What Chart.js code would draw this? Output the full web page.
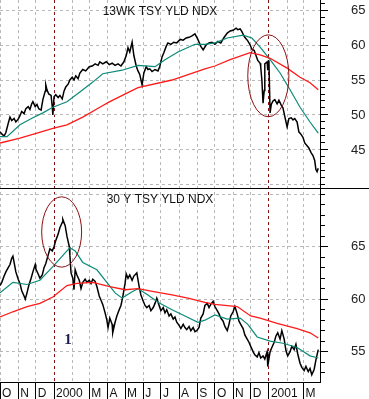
<!DOCTYPE html>
<html>
<head>
<meta charset="utf-8">
<script src="https://cdn.jsdelivr.net/npm/chart.js@4.4.1/dist/chart.umd.min.js"></script>
<style>
  html, body { margin: 0; padding: 0; background: #fff; }
  #wrap { width: 369px; height: 399px; }
</style>
</head>
<body>
<div id="wrap"><canvas id="grafico" width="369" height="399"></canvas></div>
<script>
// ===============================
// DATA (x = days since 1 Oct 1999)
// ===============================

const monthDays = [0, 31, 61, 92, 123, 152, 183, 213, 244, 274, 305, 336, 366, 397, 427, 458, 489, 517];
const monthLabels = ["O", "N", "D", "2000", "", "M", "A", "M", "J", "J", "A", "S", "O", "N", "D", "2001", "", "M"];
const yearStarts = [92, 458];
const silentTicks = [123, 489];

const topTitle = "13WK TSY YLD NDX";
const botTitle = "30 Y TSY YLD NDX";
const topLabels = [45, 50, 55, 60, 65];
const botLabels = [55, 60, 65];

// 13 week yield index, daily close
const topDays = [
  0, 3, 7, 10, 14, 17, 20, 24, 27, 31,
  34, 37, 41, 44, 48, 51, 54, 56, 60, 63,
  66, 70, 73, 77, 78, 80, 83, 87, 89, 90,
  92, 95, 99, 102, 106, 109, 112, 116, 119, 123,
  126, 129, 133, 136, 141, 146, 152, 157, 162, 167,
  170, 175, 181, 186, 191, 196, 201, 206, 211, 215,
  218, 221, 225, 228, 232, 235, 238, 242, 245, 249,
  252, 255, 259, 264, 269, 272, 276, 279, 283, 286,
  291, 296, 301, 307, 312, 317, 322, 327, 332, 337,
  342, 346, 351, 356, 361, 366, 371, 376, 381, 387,
  392, 397, 402, 405, 409, 412, 416, 419, 422, 426,
  429, 433, 436, 439, 443, 444, 446, 448, 450, 451,
  455, 456, 458, 460, 462, 465, 468, 472, 475, 479,
  482, 485, 489, 492, 496, 499, 502, 506, 509, 513,
  516, 519, 523, 526, 530, 533, 536, 538, 540, 542
];
const topPrice = [
  47.6, 47.3, 47.0, 47.5, 48.8, 49.7, 49.2, 49.5, 49.0, 49.4,
  49.9, 50.5, 50.2, 50.9, 51.2, 50.8, 51.6, 51.9, 51.2, 51.5,
  50.9, 50.7, 52.2, 53.4, 54.3, 53.6, 53.0, 52.8, 51.2, 50.0,
  52.6, 52.9, 52.5, 52.8, 52.3, 53.4, 54.0, 54.4, 55.0, 55.4,
  55.0, 55.6, 55.2, 56.0, 56.5, 56.3, 56.9, 57.0, 57.3, 57.1,
  57.6, 57.3, 57.6, 57.2, 57.4, 57.1, 57.3, 57.0, 57.6, 58.5,
  59.6, 59.0, 60.4, 58.5, 57.0, 56.3, 55.8, 54.3, 56.0, 56.9,
  56.5, 56.6, 56.2, 56.5, 56.3, 56.9, 58.3, 58.9, 59.8, 60.3,
  60.1, 60.4, 60.3, 60.8, 60.7, 61.0, 61.1, 61.3, 61.6, 60.8,
  59.8, 59.3, 60.0, 60.3, 60.4, 60.1, 60.5, 60.3, 61.0, 61.7,
  62.0, 62.1, 62.4, 62.2, 62.3, 61.9, 61.2, 60.9, 60.6, 60.0,
  59.4, 59.2, 58.5, 57.8, 57.4, 56.9, 55.0, 51.7, 53.5, 57.3,
  57.6, 56.4, 57.8, 50.3, 51.5, 52.0, 52.2, 51.6, 52.1, 51.4,
  51.0, 49.8, 48.3, 49.5, 49.6, 49.3, 49.5, 49.0, 47.6, 47.2,
  46.8, 46.0, 45.6, 45.3, 44.6, 44.2, 43.5, 42.2, 41.9, 42.4
];
const topTealDays = [0, 12, 34, 56, 73, 90, 114, 136, 158, 175, 208, 235, 264, 281, 303, 332, 349, 366, 387, 414, 429, 443, 460, 477, 494, 511, 528, 542];
const topTeal = [46.9, 46.9, 48.6, 49.6, 50.3, 51.1, 51.9, 53.3, 54.7, 55.9, 56.4, 57.1, 56.9, 57.9, 59.0, 60.1, 60.1, 60.3, 61.0, 61.4, 61.0, 59.7, 57.9, 56.0, 53.6, 51.1, 49.0, 47.4];
const topRedDays = [0, 34, 63, 90, 114, 141, 170, 187, 235, 293, 349, 366, 392, 426, 443, 460, 489, 511, 528, 542];
const topRed = [46.0, 46.7, 47.4, 48.1, 48.6, 49.7, 51.1, 51.9, 53.9, 55.0, 56.6, 57.0, 57.9, 58.9, 58.6, 58.1, 56.7, 55.4, 54.6, 53.6];

// 30 year yield index, daily close
const botDays = [
  0, 3, 7, 10, 14, 17, 20, 22, 24, 27,
  31, 34, 37, 41, 43, 46, 49, 53, 56, 60,
  61, 65, 68, 72, 75, 78, 82, 85, 89, 92,
  95, 99, 102, 106, 107, 111, 114, 118, 119, 121,
  124, 126, 128, 131, 135, 138, 141, 145, 148, 152,
  155, 158, 162, 165, 169, 172, 175, 179, 182, 184,
  187, 191, 192, 196, 199, 203, 206, 209, 213, 215,
  218, 221, 225, 228, 233, 237, 240, 244, 247, 250,
  254, 257, 261, 264, 267, 271, 274, 278, 281, 284,
  288, 291, 295, 298, 301, 305, 308, 312, 315, 318,
  322, 325, 329, 332, 335, 339, 342, 346, 349, 353,
  356, 359, 363, 366, 370, 373, 376, 380, 383, 387,
  390, 393, 397, 400, 404, 407, 410, 414, 417, 421,
  424, 427, 431, 434, 438, 441, 444, 448, 451, 455,
  456, 460, 463, 467, 470, 473, 477, 480, 484, 487,
  490, 494, 497, 501, 504, 507, 511, 514, 518, 521,
  525, 528, 531, 535, 538, 542
];
const botPrice = [
  61.3, 61.6, 62.2, 62.6, 63.0, 63.3, 63.9, 64.1, 63.5, 62.6,
  61.9, 61.5, 60.8, 60.3, 60.0, 60.6, 61.3, 62.0, 62.6, 63.3,
  62.9, 62.4, 62.0, 62.3, 63.0, 63.4, 64.2, 64.8, 64.6, 65.0,
  65.6, 66.2, 66.8, 67.3, 67.6, 67.0, 66.0, 65.0, 64.2, 62.5,
  62.0, 60.9, 62.8, 62.3, 61.8, 61.0, 61.6, 61.9, 61.6, 61.8,
  61.5, 61.9, 61.7, 61.2, 60.3, 59.9, 59.5, 58.7, 58.0, 57.3,
  58.2, 57.6, 56.8, 57.8, 58.4, 59.0, 59.4, 60.2, 61.5, 62.4,
  62.0, 62.3, 61.8, 62.2, 62.5, 61.2, 60.4, 59.8, 59.4, 59.2,
  59.4, 58.9, 59.2, 59.6, 60.1, 59.4, 58.9, 59.2, 58.7, 59.0,
  58.4, 58.6, 58.1, 58.3, 57.8, 57.5, 57.2, 57.6, 57.3, 57.1,
  57.4, 57.0, 57.3, 56.9, 57.0, 57.3, 58.2, 58.6, 59.4, 59.6,
  59.2, 59.5, 59.8, 59.3, 58.9, 58.6, 58.2, 57.9, 57.4, 57.0,
  57.6, 58.4, 58.8, 59.3, 58.6, 57.9, 57.6, 57.2, 56.6, 56.2,
  55.9, 55.5, 55.0, 54.7, 54.5, 54.9, 54.4, 54.6, 54.3, 55.0,
  53.6, 55.0, 55.4, 55.9, 56.5, 56.8, 56.2, 57.0, 56.2, 55.1,
  54.6, 55.0, 55.5, 55.2, 55.7, 54.8, 53.9, 53.5, 53.2, 53.6,
  53.1, 53.4, 52.8, 53.3, 54.2, 55.2
];
const botTealDays = [0, 22, 46, 68, 90, 114, 119, 128, 141, 165, 182, 196, 208, 225, 235, 252, 269, 293, 315, 337, 349, 366, 387, 409, 422, 438, 460, 482, 506, 528, 542];
const botTeal = [60.6, 61.6, 61.4, 61.8, 63.1, 64.6, 64.9, 64.6, 63.5, 62.8, 61.6, 60.6, 60.1, 60.7, 61.0, 60.4, 59.7, 59.0, 58.4, 57.8, 58.0, 58.5, 58.1, 58.2, 57.6, 56.4, 56.0, 55.8, 55.4, 54.6, 54.4];
const botRedDays = [0, 22, 46, 68, 90, 114, 131, 158, 187, 213, 235, 264, 293, 320, 349, 366, 404, 427, 443, 472, 506, 528, 542];
const botRed = [58.3, 58.8, 59.3, 59.6, 60.2, 61.3, 61.5, 61.6, 61.2, 60.9, 61.0, 60.7, 60.4, 60.1, 59.7, 59.5, 59.3, 58.4, 58.2, 57.7, 57.2, 56.8, 56.3];

// circled areas and the "1" note, in data units
const circles = [
  { axis: "yTop", day: 457, value: 55.6, halfDays: 35, halfValue: 5.85 },
  { axis: "yBot", day: 105, value: 66.4, halfDays: 34, halfValue: 3.35 }
];
const note = { axis: "yBot", day: 116, value: 55.7, text: "1" };

// ===============================
// HELPERS
// ===============================

function pares(dias, valores) {
  return dias.map(function (d, i) {
    return { x: d, y: valores[i] };
  });
}

function marcas(desde, hasta) {
  const lista = [];
  for (let v = desde; v <= hasta; v++) lista.push({ value: v });
  return lista;
}

const fuente = '"Liberation Sans", Arial, sans-serif';
const gris = "#b8b8b8";
const rojo = "#ff1a1a";
const verde = "#0b8a78";
const granate = "#8b1010";

function ejeY(peso, min, max, desde, hasta, etiquetas) {
  return {
    type: "linear",
    position: "right",
    stack: "panel",
    stackWeight: peso,
    min: min,
    max: max,
    afterBuildTicks: function (s) { s.ticks = marcas(desde, hasta); },
    afterFit: function (s) {
      s.width = 49;
      s.paddingTop = 0;
      s.paddingBottom = 0;
    },
    ticks: {
      autoSkip: false,
      padding: 23,
      color: "#222",
      font: { family: fuente, size: 13 },
      callback: function (v) { return etiquetas.includes(v) ? String(v) : ""; }
    },
    grid: {
      color: function (c) { return c.tick && c.tick.value % 5 === 0 ? gris : "rgba(0,0,0,0)"; },
      lineWidth: 1,
      tickLength: 8,
      tickColor: "#000",
      tickBorderDash: function (c) { return c.tick && etiquetas.includes(c.tick.value) ? [] : [4, 40]; }
    },
    border: { display: true, color: "#000", width: 1, dash: [3, 3] }
  };
}

// ===============================
// ANNOTATIONS PLUGIN
// ===============================

const anotaciones = {
  id: "anotaciones",
  afterDraw: function (chart) {
    const ctx = chart.ctx;
    const area = chart.chartArea;
    const x = chart.scales.x;
    const yT = chart.scales.yTop;
    const yB = chart.scales.yBot;

    ctx.save();

    // line between the two panels
    const sep = Math.round(yT.bottom) + 0.5;
    ctx.strokeStyle = "#000";
    ctx.lineWidth = 1;
    ctx.beginPath();
    ctx.moveTo(0, sep);
    ctx.lineTo(chart.width, sep);
    ctx.stroke();

    // panel titles
    const cx = (area.left + area.right) / 2;
    ctx.fillStyle = "#111";
    ctx.font = "12px " + fuente;
    ctx.textAlign = "center";
    ctx.textBaseline = "alphabetic";
    ctx.fillText(topTitle, cx, yT.top + 15);
    ctx.fillText(botTitle, cx, yB.top + 15);

    // circles
    ctx.strokeStyle = granate;
    ctx.lineWidth = 1;
    circles.forEach(function (c) {
      const ys = chart.scales[c.axis];
      const px = x.getPixelForValue(c.day);
      const py = ys.getPixelForValue(c.value);
      const rx = Math.abs(x.getPixelForValue(c.day + c.halfDays) - px);
      const ry = Math.abs(ys.getPixelForValue(c.value + c.halfValue) - py);
      ctx.beginPath();
      ctx.ellipse(px, py, rx, ry, 0, 0, Math.PI * 2);
      ctx.stroke();
    });

    // note
    const ys = chart.scales[note.axis];
    ctx.fillStyle = "#1c1c4a";
    ctx.font = 'bold 15px "Liberation Serif", "Times New Roman", serif';
    ctx.fillText(note.text, x.getPixelForValue(note.day), ys.getPixelForValue(note.value));

    ctx.restore();
  }
};

// ===============================
// CHART
// ===============================

const ctx = document.getElementById("grafico").getContext("2d");

new Chart(ctx, {
  type: "line",
  data: {
    datasets: [
      { data: pares(topRedDays, topRed), yAxisID: "yTop", borderColor: rojo, borderWidth: 1.3 },
      { data: pares(topTealDays, topTeal), yAxisID: "yTop", borderColor: verde, borderWidth: 1.2 },
      { data: pares(topDays, topPrice), yAxisID: "yTop", borderColor: "#000", borderWidth: 1.5 },
      { data: pares(botRedDays, botRed), yAxisID: "yBot", borderColor: rojo, borderWidth: 1.3 },
      { data: pares(botTealDays, botTeal), yAxisID: "yBot", borderColor: verde, borderWidth: 1.2 },
      { data: pares(botDays, botPrice), yAxisID: "yBot", borderColor: "#000", borderWidth: 1.5 }
    ]
  },
  options: {
    responsive: false,
    animation: false,
    layout: { padding: 0 },
    elements: { point: { radius: 0 }, line: { tension: 0 } },
    plugins: { legend: { display: false }, tooltip: { enabled: false } },
    scales: {
      x: {
        type: "linear",
        position: "bottom",
        min: 0,
        max: 545,
        afterBuildTicks: function (s) {
          s.ticks = monthDays.map(function (d) { return { value: d }; });
        },
        afterFit: function (s) {
          s.height = 17;
          s.paddingLeft = 0;
          s.paddingRight = 0;
        },
        ticks: {
          autoSkip: false,
          maxRotation: 0,
          minRotation: 0,
          align: "start",
          labelOffset: 2,
          padding: -13,
          color: "#111",
          font: { family: fuente, size: 12 },
          callback: function (v, i) { return monthLabels[i]; }
        },
        grid: {
          color: function (c) { return c.tick && yearStarts.includes(c.tick.value) ? granate : gris; },
          lineWidth: 1,
          tickLength: 17,
          tickWidth: 1,
          tickColor: function (c) { return c.tick && silentTicks.includes(c.tick.value) ? "rgba(0,0,0,0)" : "#000"; }
        },
        border: { display: true, color: "#000", width: 1, dash: [3, 3] }
      },
      yTop: ejeY(188, 39.57, 66.43, 40, 66, topLabels),
      yBot: ejeY(194, 52.11, 70.59, 53, 70, botLabels)
    }
  },
  plugins: [anotaciones]
});
</script>
</body>
</html>
